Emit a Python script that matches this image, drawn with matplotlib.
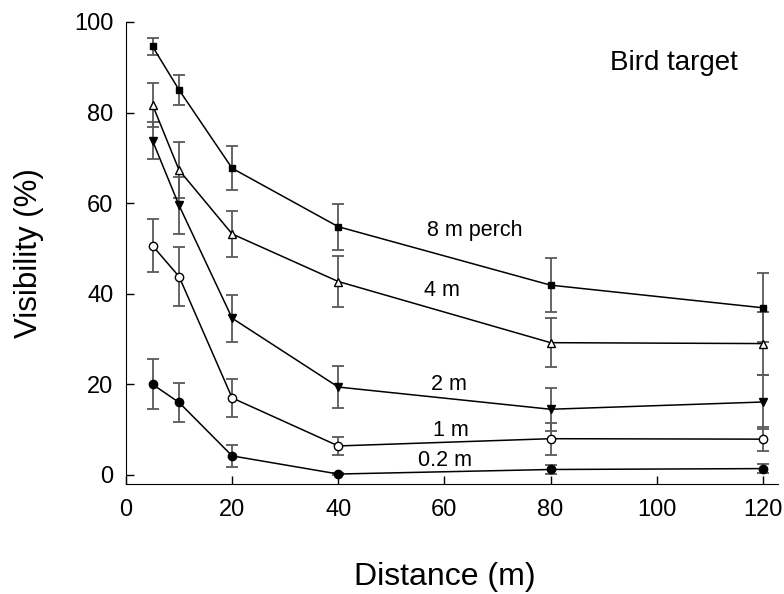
import numpy as np
import matplotlib.pyplot as plt

plt.rcParams['font.family'] = ['Liberation Sans', 'DejaVu Sans']

# distances (m)
distance = [5, 10, 20, 40, 80, 120]

# perch heights and their visibility (%) with error bars
names = ["8 m perch", "4 m", "2 m", "1 m", "0.2 m"]
vis_8m = [94.6, 85.0, 67.7, 54.8, 41.9, 36.9]
err_8m = [1.8, 3.3, 4.9, 5.1, 6.0, 7.6]
vis_4m = [81.7, 67.3, 53.2, 42.7, 29.2, 29.0]
err_4m = [4.9, 6.1, 5.1, 5.7, 5.4, 7.0]
vis_2m = [73.8, 59.5, 34.6, 19.4, 14.5, 16.1]
err_2m = [4.1, 6.3, 5.2, 4.6, 4.8, 5.9]
vis_1m = [50.6, 43.8, 17.0, 6.4, 8.0, 7.9]
err_1m = [5.8, 6.6, 4.2, 1.9, 3.5, 2.7]
vis_02m = [20.0, 16.0, 4.2, 0.2, 1.2, 1.4]
err_02m = [5.5, 4.4, 2.4, 0.3, 0.9, 1.0]

values = [vis_8m, vis_4m, vis_2m, vis_1m, vis_02m]
errors = [err_8m, err_4m, err_2m, err_1m, err_02m]
markers = ['s', '^', 'v', 'o', 'o']
faces = ['black', 'white', 'black', 'white', 'black']
msizes = [5, 5.5, 5.5, 6, 6]
# label positions (data coords)
label_pos = [(65.7, 53.9), (59.5, 40.8), (60.8, 19.9), (61.2, 9.8), (60.2, 3.2)]

fig = plt.figure(figsize=(7.84, 5.94), dpi=100)
ax = fig.add_axes([0.1607, 0.1852, 0.8313, 0.7778])

for v, e, m, fc, ms in zip(values, errors, markers, faces, msizes):
    ax.errorbar(distance, v, yerr=e, fmt='none', ecolor='#595959',
                elinewidth=1.3, capsize=4, capthick=1.3, zorder=2)
    ax.plot(distance, v, color='black', lw=1.1, marker=m, ms=ms,
            mfc=fc, mec='black', mew=1.0, zorder=3)

for name, (lx, ly) in zip(names, label_pos):
    ax.text(lx, ly, name, fontsize=15.5, ha='center', va='center')

ax.text(103.2, 91.0, "Bird target", fontsize=20, ha='center', va='center')

ax.set_xlim(0, 122.8)
ax.set_ylim(-2, 100)
ax.set_xticks([0, 20, 40, 60, 80, 100, 120])
ax.set_yticks([0, 20, 40, 60, 80, 100])
ax.tick_params(direction='in', labelsize=17, length=6, width=1)
ax.tick_params(axis='x', pad=11)
ax.tick_params(axis='y', pad=9)
ax.spines['top'].set_visible(False)
ax.spines['right'].set_visible(False)
ax.spines['left'].set_bounds(-2, 100)

ax.set_xlabel("Distance (m)", fontsize=23)
ax.xaxis.set_label_coords(0.489, -0.168)
ax.set_ylabel("Visibility (%)", fontsize=22.5, labelpad=22)

fig.savefig("out.png", dpi=100)
